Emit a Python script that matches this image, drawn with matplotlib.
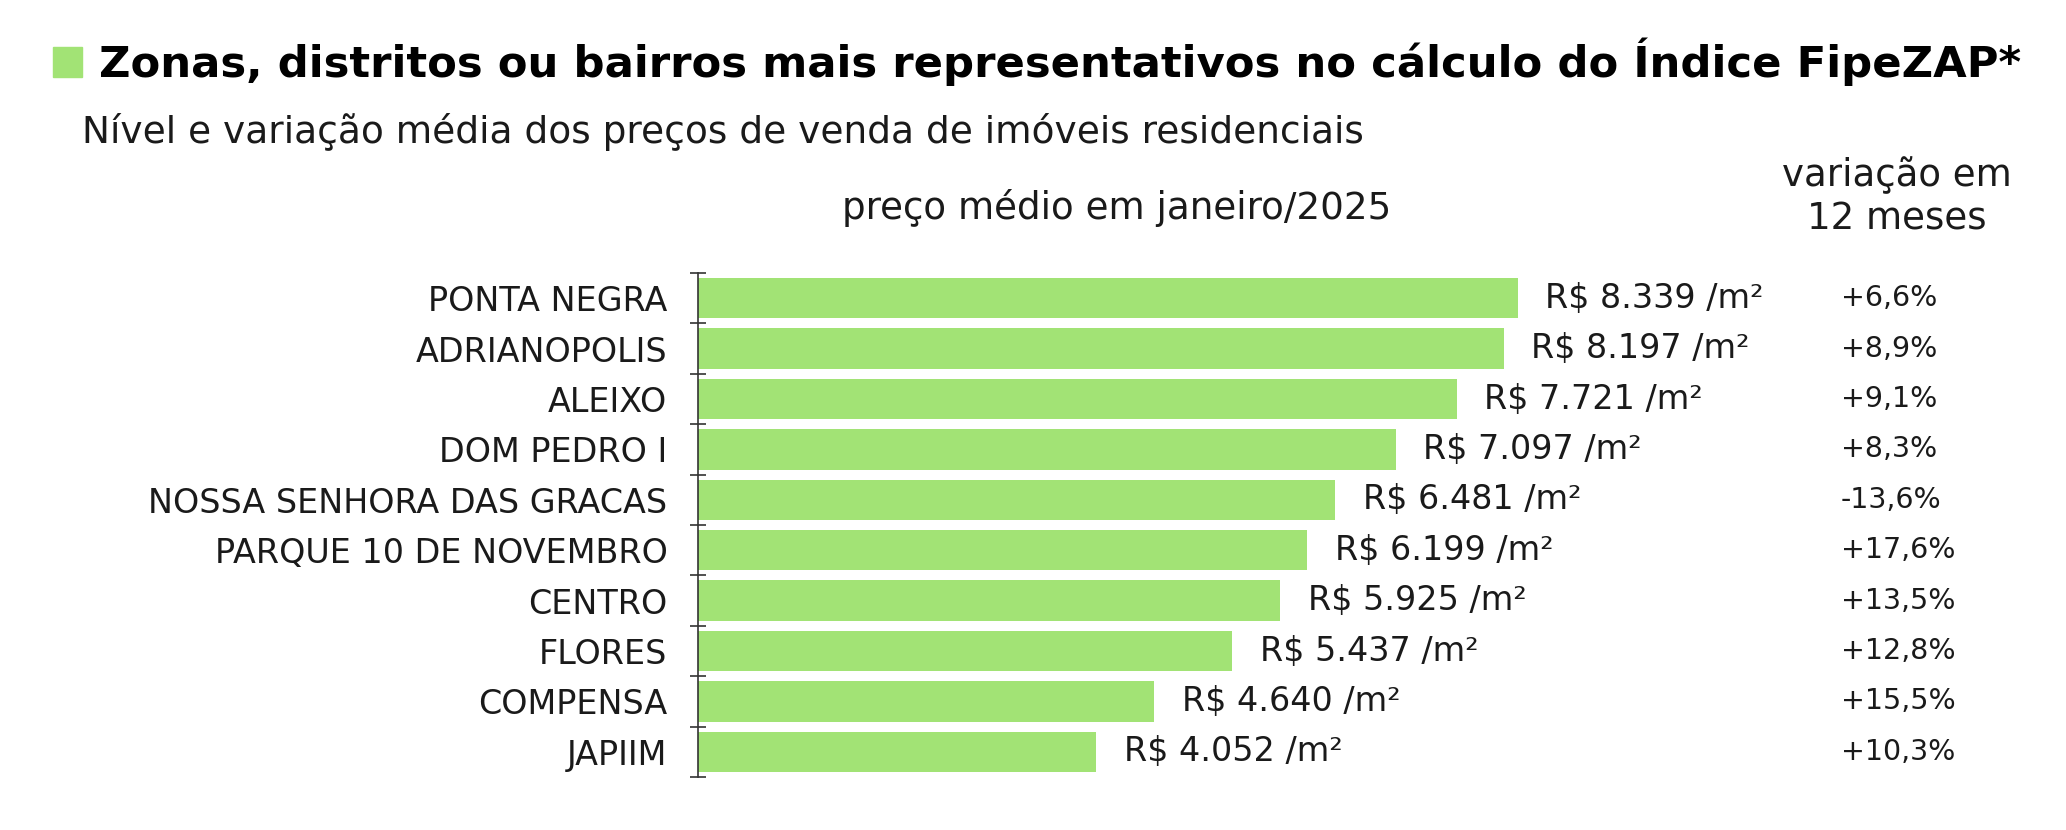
import numpy as np
import matplotlib.pyplot as plt

bairros = ['PONTA NEGRA', 'ADRIANOPOLIS', 'ALEIXO', 'DOM PEDRO I',
           'NOSSA SENHORA DAS GRACAS', 'PARQUE 10 DE NOVEMBRO', 'CENTRO',
           'FLORES', 'COMPENSA', 'JAPIIM']
precos = [8339, 8197, 7721, 7097, 6481, 6199, 5925, 5437, 4640, 4052]
variacao = ['+6,6%', '+8,9%', '+9,1%', '+8,3%', '-13,6%', '+17,6%',
            '+13,5%', '+12,8%', '+15,5%', '+10,3%']

plt.rcParams['font.family'] = ['DejaVu Sans']
txt = '#1a1a1a'
verde = '#a2e375'

W, H = 2066, 830
fig = plt.figure(figsize=(W / 100, H / 100), dpi=100)

# axes placed in pixel coords of the reference
x0, x1 = 698, 1800
ytop, ybot = 273, 777
ax = fig.add_axes([x0 / W, 1 - ybot / H, (x1 - x0) / W, (ybot - ytop) / H])

y = np.arange(len(bairros))
ax.barh(y, precos, height=0.8, color=verde)
ax.set_xlim(0, (x1 - x0) / 0.0983)
ax.set_ylim(len(bairros) - 0.5, -0.5)

for s in ['top', 'right', 'bottom']:
    ax.spines[s].set_visible(False)
ax.spines['left'].set_color('#333333')
ax.spines['left'].set_linewidth(1.2)
ax.set_xticks([])
ax.set_yticks(y)
ax.set_yticklabels(bairros, fontsize=24, color=txt)
ax.tick_params(axis='y', which='major', length=0, pad=22)
ax.set_yticks(np.arange(len(bairros) + 1) - 0.5, minor=True)
ax.tick_params(axis='y', which='minor', length=12, direction='inout',
               width=1.2, color='#333333')

for i, v in enumerate(precos):
    lab = 'R$ ' + f'{v:,}'.replace(',', '.') + ' /m²'
    ax.text(v + 280, i, lab, va='center', ha='left', fontsize=24, color=txt)
    ax.text((1841 - x0) / (x1 - x0), i, variacao[i], transform=ax.get_yaxis_transform(),
            va='center', ha='left', fontsize=20.5, color=txt)

# title block
fig.patches.append(plt.Rectangle((53 / W, 1 - 77 / H), 29 / W, 30 / H,
                                 transform=fig.transFigure, color=verde))
fig.text(99 / W, 1 - 62 / H, 'Zonas, distritos ou bairros mais representativos no cálculo do Índice FipeZAP*',
         fontsize=31.2, fontweight='bold', va='center', ha='left', color='black')
fig.text(82 / W, 1 - 132 / H, 'Nível e variação média dos preços de venda de imóveis residenciais',
         fontsize=27, va='center', ha='left', color=txt)
fig.text(1117 / W, 1 - 208 / H, 'preço médio em janeiro/2025',
         fontsize=26.8, va='center', ha='center', color=txt)
fig.text(1897 / W, 1 - 197 / H, 'variação em\n12 meses', linespacing=1.2,
         fontsize=26.7, va='center', ha='center', color=txt)

fig.savefig('out.png', dpi=100, facecolor='white')
